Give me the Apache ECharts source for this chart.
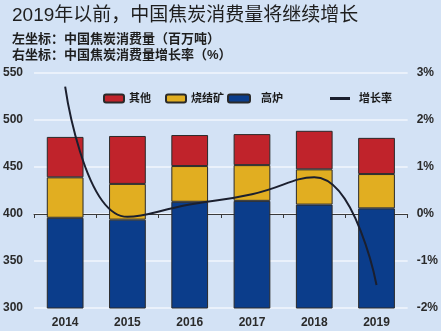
<!DOCTYPE html>
<html><head><meta charset="utf-8">
<script src="https://cdn.jsdelivr.net/npm/echarts@6/dist/echarts.min.js"></script>
<style>html,body{margin:0;padding:0;background:#d3e2f5;}#c{width:441px;height:331px;}</style>
</head><body><div id="c"></div>
<script>
const categories = ['2014','2015','2016','2017','2018','2019'];
const blastFurnace = [396, 394, 413, 414, 410, 406];
const sinter = [43, 38, 38, 38, 37.5, 36.5];
const other = [43, 51, 33, 33, 41, 38.5];
const growthRate = [2.71, -0.06, 0.2, 0.42, 0.78, -1.51];
const leftTicks = {min: 300, max: 550, interval: 50};
const rightTicks = {min: -2, max: 3, interval: 1};

const FONT = '"Liberation Sans", "Noto Sans CJK SC", sans-serif';
const chart = echarts.init(document.getElementById('c'));
const legendText = {color: '#1a1a1a', fontSize: 11, fontWeight: 'bold', fontFamily: FONT};
const barBorder = {borderColor: '#2a2a2a', borderWidth: 1};
chart.setOption({
  backgroundColor: '#d3e2f5',
  animation: false,
  title: [
    {text: '2019年以前，中国焦炭消费量将继续增长', left: 7, top: 1,
     textStyle: {fontSize: 19, fontWeight: 'normal', color: '#1e1e1e', fontFamily: FONT}},
    {text: '左坐标：中国焦炭消费量（百万吨）', left: 7, top: 28,
     textStyle: {fontSize: 13, fontWeight: 'bold', color: '#1e1e1e', fontFamily: FONT}},
    {text: '右坐标：中国焦炭消费量增长率（%）', left: 7, top: 44,
     textStyle: {fontSize: 13, fontWeight: 'bold', color: '#1e1e1e', fontFamily: FONT}}
  ],
  legend: [
    {data: ['其他'], left: 98, top: 88, itemWidth: 20, itemHeight: 8, icon: 'roundRect', textStyle: legendText},
    {data: ['烧结矿'], left: 160, top: 88, itemWidth: 20, itemHeight: 8, icon: 'roundRect', textStyle: legendText},
    {data: ['高炉'], left: 222, top: 88, itemWidth: 22, itemHeight: 8, icon: 'roundRect', itemGap: 10, textStyle: Object.assign({}, legendText, {padding: [0,0,0,6]})},
    {data: ['增长率'], left: 325, top: 88, itemWidth: 20, itemHeight: 3, icon: 'rect', textStyle: Object.assign({}, legendText, {padding: [0,0,0,4]})}
  ],
  grid: {left: 33, right: 32, top: 73, bottom: 23},
  xAxis: {
    type: 'category', data: categories,
    axisLine: {lineStyle: {color: '#3a3a3a', width: 1}},
    axisTick: {show: true, length: 4, lineStyle: {color: '#3a3a3a'}},
    axisLabel: {color: '#2a2a2a', fontSize: 12, fontWeight: 'bold', fontFamily: FONT, margin: 9}
  },
  yAxis: [
    {type: 'value', min: leftTicks.min, max: leftTicks.max, interval: leftTicks.interval,
     axisLine: {show: false}, axisTick: {show: false},
     axisLabel: {color: '#2a2a2a', fontSize: 12, fontWeight: 'bold', fontFamily: FONT, margin: 11},
     splitLine: {lineStyle: {color: '#eaf1fb', width: 2}}},
    {type: 'value', min: rightTicks.min, max: rightTicks.max, interval: rightTicks.interval,
     axisLine: {show: false}, axisTick: {show: false},
     axisLabel: {color: '#2a2a2a', fontSize: 12, fontWeight: 'bold', fontFamily: FONT, margin: 9, formatter: '{value}%'},
     splitLine: {show: false}}
  ],
  series: [
    {name: '高炉', type: 'bar', stack: 'c', data: blastFurnace, barWidth: '59%',
     itemStyle: Object.assign({color: '#0b3d8b'}, barBorder)},
    {name: '烧结矿', type: 'bar', stack: 'c', data: sinter,
     itemStyle: Object.assign({color: '#e1ae21'}, barBorder)},
    {name: '其他', type: 'bar', stack: 'c', data: other,
     itemStyle: Object.assign({color: '#c0232b'}, barBorder)},
    {name: '增长率', type: 'line', yAxisIndex: 1, data: growthRate, smooth: 0.5,
     showSymbol: false, symbol: 'none', lineStyle: {color: '#1b1f2e', width: 2}, itemStyle: {color: '#1b1f2e'}, z: 5}
  ]
});
</script></body></html>
